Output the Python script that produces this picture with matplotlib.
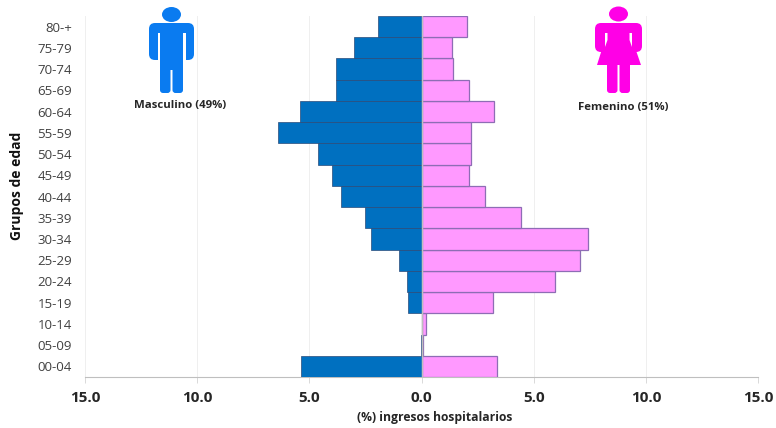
import matplotlib
matplotlib.use('Agg')
import matplotlib.pyplot as plt
from matplotlib.patches import Ellipse, FancyBboxPatch, Polygon

plt.rcParams['font.family'] = ['Open Sans', 'DejaVu Sans']

# Age groups, bottom to top
grupos = ['00-04', '05-09', '10-14', '15-19', '20-24', '25-29', '30-34', '35-39', '40-44',
          '45-49', '50-54', '55-59', '60-64', '65-69', '70-74', '75-79', '80-+']
masculino = [5.35, 0.02, 0.0, 0.6, 0.65, 1.0, 2.25, 2.5, 3.6, 4.0, 4.6, 6.4, 5.4, 3.8, 3.8, 3.0, 1.95]
femenino = [3.35, 0.06, 0.2, 3.2, 5.95, 7.05, 7.4, 4.45, 2.85, 2.1, 2.2, 2.2, 3.25, 2.1, 1.4, 1.35, 2.05]
ticks = [-15, -10, -5, 0, 5, 10, 15]
tick_labels = ['15.0', '10.0', '5.0', '0.0', '5.0', '10.0', '15.0']

W, H = 776, 428
fig = plt.figure(figsize=(W / 100, H / 100), dpi=100)
ax = fig.add_axes([85 / W, 1 - 377 / H, (758 - 85) / W, (377 - 16) / H])

y = list(range(len(grupos)))
ax.barh(y, [-m for m in masculino], height=1.0, color='#0070C0', edgecolor='#2A4A78', linewidth=0.5, zorder=3)
ax.barh(y, femenino, height=1.0, color='#FF99FF', edgecolor='#8E6DB5', linewidth=0.9, zorder=3)

ax.set_xlim(-15, 15)
ax.set_ylim(-0.5, 16.5)
ax.set_xticks(ticks)
ax.set_xticklabels(tick_labels, fontsize=11, fontweight='bold', color='#262626')
ax.set_yticks(y)
ax.set_yticklabels(grupos, fontsize=9.5, color='#404040')
ax.tick_params(axis='y', length=0, pad=9.4)
ax.tick_params(axis='x', length=4, width=0.7, color='#D9D9D9', pad=6)
ax.grid(axis='x', color='#EFEFEF', linewidth=0.7, zorder=0)
for side in ['top', 'right', 'left']:
    ax.spines[side].set_visible(False)
ax.spines['bottom'].set_color('#BFBFBF')
ax.axvline(0, color='#BFBFBF', linewidth=1, zorder=4)

# Overlay in pixel coordinates for icons and labels
ov = fig.add_axes([0, 0, 1, 1], facecolor='none')
ov.set_xlim(0, W)
ov.set_ylim(H, 0)
ov.axis('off')


def box(x0, y0, x1, y1, color, r=4):
    ov.add_patch(FancyBboxPatch((x0 + r, y0 + r), x1 - x0 - 2 * r, y1 - y0 - 2 * r,
                                boxstyle=f'round,pad={r}', fc=color, ec='none'))


# man icon
blue = '#0A7BF0'
ov.add_patch(Ellipse((171.5, 14.5), 19, 15, fc=blue, ec='none'))
box(149, 23, 194, 60, blue, 6)
box(160, 30, 183, 70, blue, 1)
box(160, 50, 170.5, 93, blue, 3)
box(172.5, 50, 183, 93, blue, 3)
for x0 in [157.5, 183]:
    ov.add_patch(plt.Rectangle((x0, 33), 2.5, 29, fc='white', ec='none'))

# woman icon
pink = '#FF00E6'
ov.add_patch(Ellipse((618.5, 14), 19, 15, fc=pink, ec='none'))
box(595, 23, 642, 52, pink, 6)
ov.add_patch(Polygon([(608, 30), (629, 30), (641, 65), (597, 65)], fc=pink, ec='none'))
ov.add_patch(Polygon([(605, 33), (607.5, 33), (607.5, 40), (605, 47)], fc='white', ec='none'))
ov.add_patch(Polygon([(629.5, 33), (632, 33), (632, 47), (629.5, 40)], fc='white', ec='none'))
box(607, 60, 617.5, 93, pink, 3)
box(619.5, 60, 630, 93, pink, 3)

ov.text(180, 105, 'Masculino (49%)', fontsize=8.2, fontweight='bold', color='#262626', ha='center', va='center')
ov.text(623, 107, 'Femenino (51%)', fontsize=8.2, fontweight='bold', color='#262626', ha='center', va='center')
ov.text(435, 418, '(%) ingresos hospitalarios', fontsize=8.7, fontweight='bold', color='#262626', ha='center', va='center')
ov.text(17, 186, 'Grupos de edad', fontsize=10, fontweight='bold', color='#111111', rotation=90, ha='center', va='center')

fig.savefig('out.png', dpi=100)
